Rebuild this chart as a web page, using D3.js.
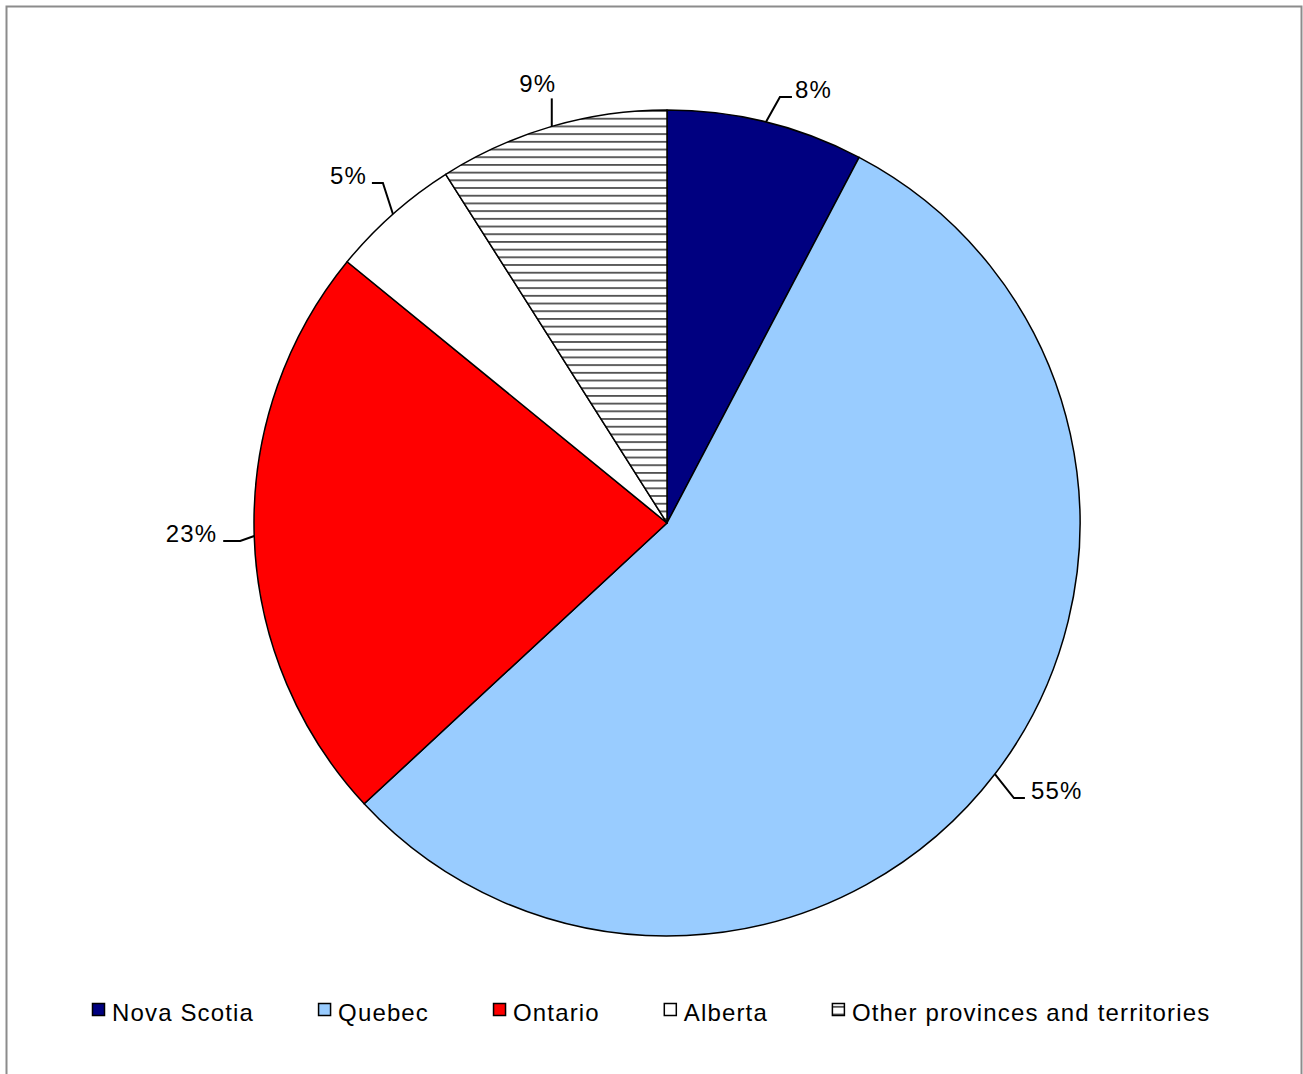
<!DOCTYPE html>
<html>
<head>
<meta charset="utf-8">
<script src="https://cdn.jsdelivr.net/npm/d3@7.9.0/dist/d3.min.js"></script>
<style>
  html, body { margin: 0; padding: 0; background: #fff; }
  svg { display: block; font-family: "Liberation Sans", Arial, sans-serif; }
</style>
</head>
<body>
<svg id="chart" width="1303" height="1074"></svg>
<script>
// ====== DATA ======
const provinces = ["Nova Scotia", "Quebec", "Ontario", "Alberta", "Other provinces and territories"];
const shares = [7.7, 55.4, 22.8, 5.1, 9.0];
const shareLabels = ["8%", "55%", "23%", "5%", "9%"];
const fills = ["#000080", "#99ccff", "#ff0000", "#ffffff", "url(#hatch)"];

// leader layout: elbow offset from the pie edge, horizontal run, text anchor
const leaders = [
  { ex: 14, ey: -25, run: 12, anchor: "start", tdx: 3, tdy: 1 },
  { ex: 19, ey: 24, run: 11, anchor: "start", tdx: 6, tdy: 1 },
  { ex: -14, ey: 5, run: -17, anchor: "end", tdx: -6, tdy: 1 },
  { ex: -10, ey: -31, run: -11, anchor: "end", tdx: -5, tdy: 1 },
  { ex: 0, ey: -28, run: 0, anchor: "middle", tdx: -14, tdy: -6 }
];

const cx = 667, cy = 523, radius = 413;
const fontSize = 24, spacing = "1.15px";

const svg = d3.select("#chart");

// hatch pattern for "other"
const defs = svg.append("defs");
const pat = defs.append("pattern")
  .attr("id", "hatch")
  .attr("patternUnits", "userSpaceOnUse")
  .attr("width", 8).attr("height", 7.7);
pat.append("rect").attr("width", 8).attr("height", 7.7).attr("fill", "#fff");
pat.append("rect").attr("y", 3).attr("width", 8).attr("height", 1.6).attr("fill", "#3a3a3a");

// outer frame
svg.append("rect")
  .attr("x", 6.5).attr("y", 6.5)
  .attr("width", 1295).attr("height", 1080)
  .attr("fill", "none")
  .attr("stroke", "#8c8c8c")
  .attr("stroke-width", 2);

// ====== PIE ======
const pie = d3.pie().sort(null).value(d => d);
const arcData = pie(shares);
const arc = d3.arc().innerRadius(0).outerRadius(radius);

const g = svg.append("g").attr("transform", `translate(${cx},${cy})`);

g.selectAll("path")
  .data(arcData)
  .join("path")
  .attr("d", arc)
  .attr("fill", (d, i) => fills[i])
  .attr("stroke", "#000")
  .attr("stroke-width", 1.5)
  .attr("stroke-linejoin", "round");

// ====== LABELS + LEADERS ======
arcData.forEach((d, i) => {
  const a = (d.startAngle + d.endAngle) / 2;
  const px = Math.sin(a) * radius;
  const py = -Math.cos(a) * radius;
  const L = leaders[i];
  const ex = px + L.ex, ey = py + L.ey;
  const hx = ex + L.run;
  g.append("path")
    .attr("d", d3.line()([[px, py], [ex, ey], [hx, ey]]))
    .attr("fill", "none")
    .attr("stroke", "#000")
    .attr("stroke-width", 2);
  g.append("text")
    .attr("x", hx + L.tdx)
    .attr("y", ey + L.tdy)
    .attr("text-anchor", L.anchor)
    .attr("font-size", fontSize)
    .attr("letter-spacing", spacing)
    .attr("fill", "#000")
    .text(shareLabels[i]);
});

// ====== LEGEND ======
const legend = svg.append("g").attr("transform", "translate(92,1003)");
let x = 0;
provinces.forEach((name, i) => {
  const item = legend.append("g").attr("transform", `translate(${x},0)`);
  item.append("rect")
    .attr("x", 0.5).attr("y", 0.5)
    .attr("width", 12).attr("height", 12)
    .attr("fill", fills[i])
    .attr("stroke", "#000")
    .attr("stroke-width", 1.5);
  const t = item.append("text")
    .attr("x", 20)
    .attr("y", 18)
    .attr("font-size", fontSize)
    .attr("letter-spacing", spacing)
    .attr("fill", "#000")
    .text(name);
  x += 20 + t.node().getComputedTextLength() + 64;
});
</script>
</body>
</html>
